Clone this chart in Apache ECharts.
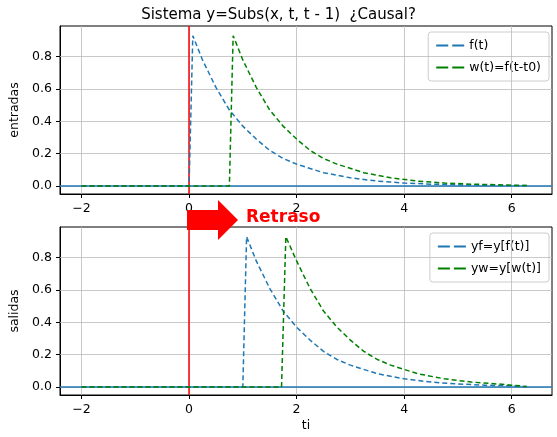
<!DOCTYPE html>
<html><head><meta charset="utf-8">
<script src="https://cdn.jsdelivr.net/npm/echarts@6/dist/echarts.min.js"></script>
<style>body{margin:0;background:#fff}#c{width:557px;height:437px}</style>
</head><body><div id="c"></div>
<script>
// decaying pulse samples
var pulse = [0, 0, 0.93, 0.78, 0.61, 0.47, 0.37, 0.29, 0.22, 0.17, 0.135, 0.082, 0.05, 0.03, 0.018, 0.011, 0.007, 0.004, 0.0025, 0.002];
var tF  = [-2, 0, 0.07, 0.25, 0.5, 0.75, 1, 1.25, 1.5, 1.75, 2, 2.5, 3, 3.5, 4, 4.5, 5, 5.5, 6, 6.28];
var tW  = [-2, 0.75, 0.82, 1, 1.25, 1.5, 1.75, 2, 2.25, 2.5, 2.75, 3.25, 3.75, 4.25, 4.75, 5.25, 5.75, 6.0, 6.15, 6.28];
var tYF = [-2, 1, 1.07, 1.25, 1.5, 1.75, 2, 2.25, 2.5, 2.75, 3, 3.5, 4, 4.5, 5, 5.5, 6, 6.15, 6.22, 6.28];
var tYW = [-2, 1.72, 1.8, 2, 2.25, 2.5, 2.75, 3, 3.25, 3.5, 3.75, 4.25, 4.75, 5.25, 5.75, 6.0, 6.15, 6.2, 6.24, 6.28];
var xTicks = [-2, 0, 2, 4, 6];
var yTicks = [0, 0.2, 0.4, 0.6, 0.8];

function pts(t) { return t.map(function (v, i) { return [v, pulse[i]]; }); }
var font = 'DejaVu Sans';
function xAxis(i) {
  return {type: 'value', gridIndex: i, min: -2.4, max: 6.75,
    axisLine: {onZero: false, lineStyle: {color: '#000'}},
    axisTick: {customValues: xTicks, length: 4, inside: false, lineStyle: {color: '#000'}},
    axisLabel: {customValues: xTicks, color: '#000', fontFamily: font, fontSize: 12.5, formatter: function (v) { return String(v).replace('-', '−'); }},
    splitLine: {show: false},
    name: i == 1 ? 'ti' : '', nameLocation: 'middle', nameGap: 24, nameTextStyle: {color: '#000', fontFamily: font, fontSize: 12.5}};
}
function yAxis(i, name) {
  return {type: 'value', gridIndex: i, min: -0.05, max: 0.99,
    axisLine: {onZero: false, lineStyle: {color: '#000'}},
    axisTick: {show: true, customValues: yTicks, length: 4, lineStyle: {color: '#000'}},
    axisLabel: {customValues: yTicks, color: '#000', fontFamily: font, fontSize: 12.5, formatter: function (v) { return v.toFixed(1); }},
    splitLine: {show: false},
    name: name, nameLocation: 'middle', nameGap: 39, nameTextStyle: {color: '#000', fontFamily: font, fontSize: 12.5}};
}
function gridLines(i) {
  var d = xTicks.map(function (v) { return {xAxis: v}; }).concat(yTicks.map(function (v) { return {yAxis: v}; }));
  return {type: 'line', xAxisIndex: i, yAxisIndex: i, data: [], silent: true,
    markLine: {symbol: 'none', silent: true, label: {show: false}, animation: false, lineStyle: {color: '#bbbbbb', type: 'solid', width: 0.8}, data: d}};
}
function refLines(i) {
  return {type: 'line', xAxisIndex: i, yAxisIndex: i, data: [], silent: true,
    markLine: {symbol: 'none', silent: true, label: {show: false}, animation: false, data: [
      {yAxis: 0, lineStyle: {color: '#1f77b4', type: 'solid', width: 1.5}},
      {xAxis: 0, lineStyle: {color: 'red', type: 'solid', width: 1.5}}]}};
}
function dashed(name, i, t, color) {
  return {name: name, type: 'line', xAxisIndex: i, yAxisIndex: i, data: pts(t), showSymbol: false, z: 5,
    lineStyle: {color: color, type: [5, 3], width: 1.5}, itemStyle: {color: color}};
}
var legendBase = {orient: 'vertical', right: 8, itemWidth: 28, itemHeight: 2, itemGap: 9, padding: [7, 8],
  backgroundColor: '#fff', borderColor: '#ccc', borderWidth: 1, borderRadius: 3,
  textStyle: {fontFamily: font, fontSize: 12.5, color: '#000'}, icon: 'path://M0,0 L12,0 L12,2 L0,2 Z M16,0 L28,0 L28,2 L16,2 Z'};

var chart = echarts.init(document.getElementById('c'));
chart.setOption({
  animation: false,
  title: {text: 'Sistema y=Subs(x, t, t - 1)  ¿Causal?', left: 'center', top: 3,
    textStyle: {fontFamily: font, fontSize: 15, fontWeight: 'normal', color: '#000'}},
  grid: [
    {left: 56, right: 5, top: 26, height: 168, show: true, borderColor: '#000', borderWidth: 1},
    {left: 56, right: 5, top: 227, height: 168, show: true, borderColor: '#000', borderWidth: 1}],
  xAxis: [xAxis(0), xAxis(1)],
  yAxis: [yAxis(0, 'entradas'), yAxis(1, 'salidas')],
  legend: [
    Object.assign({}, legendBase, {top: 32, data: ['f(t)', 'w(t)=f(t-t0)']}),
    Object.assign({}, legendBase, {top: 233, data: ['yf=y[f(t)]', 'yw=y[w(t)]']})],
  graphic: [
    {type: 'polygon', shape: {points: [[187, 210], [218, 210], [218, 200], [238, 220], [218, 240], [218, 230], [187, 230]]}, style: {fill: 'red'}, z: 100},
    {type: 'text', left: 246, top: 209, style: {text: 'Retraso', fill: 'red', font: 'bold 17px "DejaVu Sans"'}, z: 100}],
  series: [
    gridLines(0), gridLines(1), refLines(0), refLines(1),
    dashed('f(t)', 0, tF, '#1f77b4'), dashed('w(t)=f(t-t0)', 0, tW, 'green'),
    dashed('yf=y[f(t)]', 1, tYF, '#1f77b4'), dashed('yw=y[w(t)]', 1, tYW, 'green')]
});
</script></body></html>
